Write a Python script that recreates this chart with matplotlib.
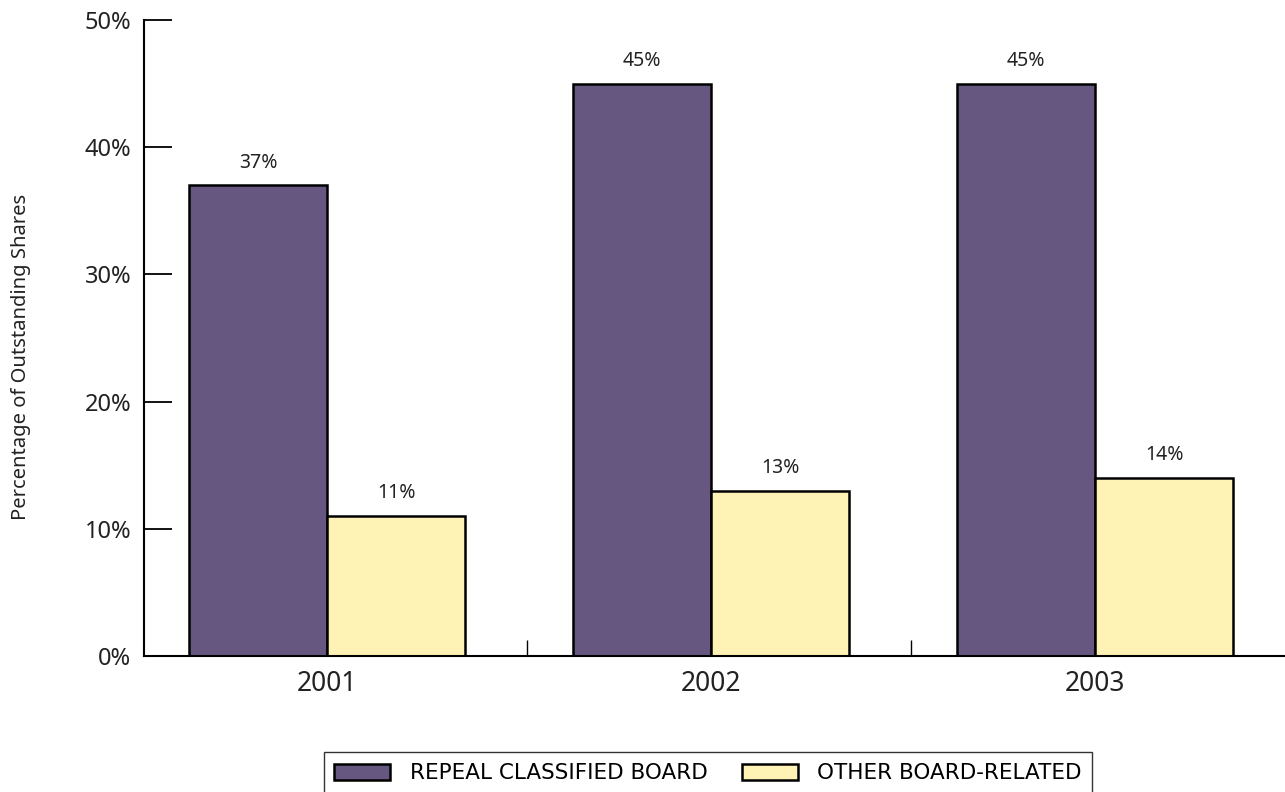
import numpy as np
import matplotlib
matplotlib.use("Agg")
import matplotlib.pyplot as plt

# 数据
years = ["2001", "2002", "2003"]
repeal_classified = [37, 45, 45]
other_board = [11, 13, 14]
series_names = ["REPEAL CLASSIFIED BOARD", "OTHER BOARD-RELATED"]
y_ticks = [0, 10, 20, 30, 40, 50]

plt.rcParams['font.family'] = ['Noto Sans', 'DejaVu Sans']

fig = plt.figure(figsize=(12.85, 7.92), dpi=100)
ax = fig.add_axes([0.112, 0.1717, 0.888, 0.803])

x = np.arange(len(years))
w = 0.36
b1 = ax.bar(x - w / 2, repeal_classified, w, color="#665780",
            edgecolor="black", linewidth=1.8, label=series_names[0])
b2 = ax.bar(x + w / 2, other_board, w, color="#FFF2B5",
            edgecolor="black", linewidth=1.8, label=series_names[1])

# 柱顶数值
for bars in (b1, b2):
    for r in bars:
        ax.text(r.get_x() + r.get_width() / 2, r.get_height() + 1.0,
                f"{r.get_height():.0f}%", ha="center", va="bottom",
                fontsize=14, color="#222222")

ax.set_xlim(-0.477, 2.495)
ax.set_ylim(0, 50)
ax.set_yticks(y_ticks)
ax.set_yticklabels([f"{v}%" for v in y_ticks], fontsize=17, color="#222222")
ax.tick_params(axis="y", direction="in", length=20, width=1.3, pad=9)

ax.set_xticks(x)
ax.set_xticklabels(years, fontsize=19, color="#222222")
ax.tick_params(axis="x", length=0, pad=10)
ax.set_xticks([0.52, 1.52], minor=True)
ax.tick_params(axis="x", which="minor", direction="in", length=11.5, width=1.0)

for s in ("top", "right"):
    ax.spines[s].set_visible(False)
ax.spines["left"].set_linewidth(1.5)
ax.spines["bottom"].set_linewidth(1.5)

ax.set_ylabel("Percentage of Outstanding Shares", fontsize=14.5, color="#222222")
ax.yaxis.set_label_coords(-0.099, 0.47)

leg = fig.legend(loc="lower center", bbox_to_anchor=(0.551, -0.016), ncol=2,
                 frameon=True, fancybox=False, edgecolor="black",
                 prop={"family": "DejaVu Sans", "size": 15.5},
                 handlelength=2.6, handleheight=0.78, handletextpad=0.9,
                 columnspacing=1.6, borderpad=0.5)
leg.get_frame().set_linewidth(1.0)

fig.savefig("out.png", dpi=100)
